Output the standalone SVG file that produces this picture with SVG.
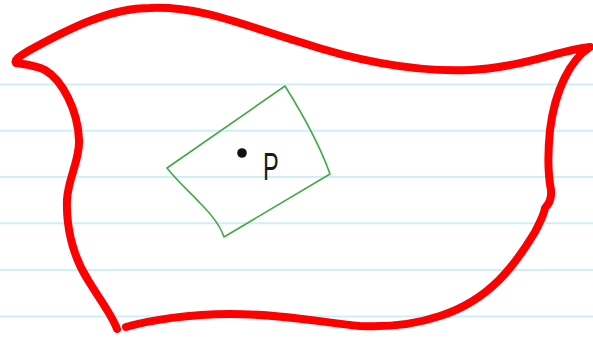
<svg xmlns="http://www.w3.org/2000/svg" width="593" height="339" viewBox="0 0 593 339">
<style>
.rule{stroke:#cdeefb;stroke-width:2}
.red{fill:none;stroke:#ff0000;stroke-width:8;stroke-linecap:round;stroke-linejoin:round}
.green{fill:none;stroke:#45a845;stroke-width:1.6;stroke-linejoin:round}
</style>
<rect width="593" height="339" fill="#ffffff"/>
<g id="paper">
<line class="rule" x1="0" y1="84.5" x2="593" y2="84.5"/>
<line class="rule" x1="0" y1="130.8" x2="593" y2="130.8"/>
<line class="rule" x1="0" y1="177" x2="593" y2="177"/>
<line class="rule" x1="0" y1="223.3" x2="593" y2="223.3"/>
<line class="rule" x1="0" y1="270" x2="593" y2="270"/>
<line class="rule" x1="0" y1="316.5" x2="593" y2="316.5"/>
</g>
<g id="region">
<path class="red" d="M117,329 C112,315 100,300 88,280 C72,255 66,225 67,200 C68,178 80,160 79,140 C78,110 62,80 45,70 C35,65 22,64 16,63 C14,60 18,57 30,50 C70,28 110,8 150,8 C200,6 240,24 300,42 C360,62 420,72 470,70 C520,68 560,50 590,47 C570,60 555,90 550,130 C548,150 548,175 551,190 C552,200 548,205 545,208 C544,215 540,222 535,232 C515,265 490,300 440,316 C410,326 380,327 360,326 C320,322 280,314 230,314 C190,314 150,320 126,327"/>
</g>
<g id="rect">
<path class="green" d="M167,168 L285,86 C300,110 318,140 330,174 L224,237 C220,225 212,215 200,203 C190,192 178,182 167,168 Z"/>
</g>
<g id="point">
<circle cx="242" cy="153" r="4.8" fill="#111"/>
<text transform="translate(263,180) scale(0.62,1)" font-family="Liberation Sans, Arial, sans-serif" font-size="38" fill="#1a1a1a">P</text>
</g>
</svg>
